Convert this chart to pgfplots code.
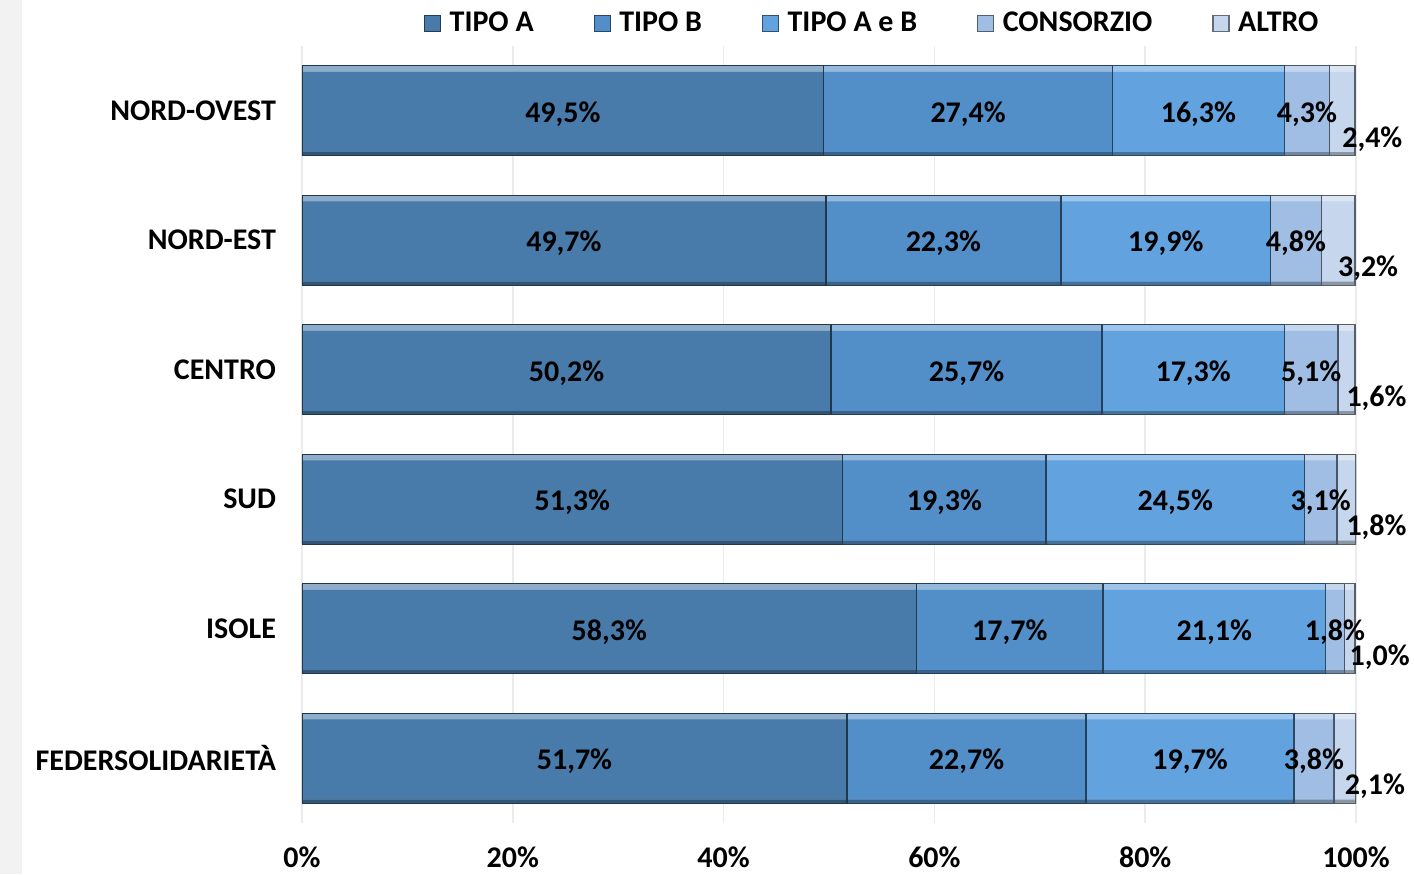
\documentclass[border=0pt]{standalone}
\usepackage{fontspec}
\setmainfont{Carlito}
\usepackage{pgfplots}
\usepackage{pgfplotstable}
\pgfplotsset{compat=1.18}
\definecolor{cA}{RGB}{72,122,170}
\definecolor{cB}{RGB}{82,142,200}
\definecolor{cC}{RGB}{98,162,222}
\definecolor{cD}{RGB}{160,190,228}
\definecolor{cE}{RGB}{198,214,236}
\pgfplotstableread{
y A B C D E
0 51.7 22.7 19.7 3.8 2.1
1 58.3 17.7 21.1 1.8 1.0
2 51.3 19.3 24.5 3.1 1.8
3 50.2 25.7 17.3 5.1 1.6
4 49.7 22.3 19.9 4.8 3.2
5 49.5 27.4 16.3 4.3 2.4
}\data
\pgfplotsset{
  myleg/.style={legend image code/.code={\draw[##1,draw=#1!50!black,line width=0.6pt] (0pt,-4pt) rectangle (8pt,4pt); \path (10.5pt,0pt);}},
  common/.style={at={(151pt,25.5pt)}, anchor=south west, scale only axis,
    width=527pt, height=388.5pt, xmin=0, xmax=100, ymin=-0.5, ymax=5.5},
  layer/.style 2 args={common, hide axis, xbar stacked, bar width=#1, bar shift=#2},
  Ldark/.style={fill=#1!70!black, draw=none},
  Llight/.style={fill=#1!62!white, draw=none},
  Lbase/.style={fill=#1, draw=none, myleg=#1},
  Lline/.style={fill=none, draw=#1!45!black, line width=0.7pt},
  lbl/.style={draw=none, mark=none, forget plot,
    nodes near coords={\pgfmathprintnumber[fixed,fixed zerofill,precision=1,use comma,assume math mode=true]{\pgfplotspointmeta}\%},
    every node near coord/.append style={anchor=center, yshift=-1.5pt, font=\fontsize{15}{18}\selectfont\bfseries, text=black}},
}
\begin{document}
\begin{tikzpicture}
\useasboundingbox (0,0) rectangle (707pt,437pt);
\fill[black!5] (0,0) rectangle (11pt,437pt);
% axis, grid, ticks and dark bottom bevel
\begin{axis}[common,
  xbar stacked, bar width=45pt, bar shift=0pt,
  ytick={0,...,5}, yticklabels={FEDERSOLIDARIETÀ,ISOLE,SUD,CENTRO,NORD-EST,NORD-OVEST},
  xtick={0,20,40,60,80,100}, xticklabels={0\%,20\%,40\%,60\%,80\%,100\%},
  axis line style={draw=none}, major tick style={draw=none},
  xmajorgrids, grid style={black!8, line width=0.8pt},
  tick label style={font=\fontsize{15}{18}\selectfont\bfseries},
  yticklabel style={xshift=-9.5pt},
  xticklabel style={yshift=-8.5pt},
]
\addplot[Ldark=cA] table[x=A,y=y]{\data};
\addplot[Ldark=cB] table[x=B,y=y]{\data};
\addplot[Ldark=cC] table[x=C,y=y]{\data};
\addplot[Ldark=cD] table[x=D,y=y]{\data};
\addplot[Ldark=cE] table[x=E,y=y]{\data};
\end{axis}
% light top bevel
\begin{axis}[layer={43pt}{1pt}]
\addplot[Llight=cA] table[x=A,y=y]{\data};
\addplot[Llight=cB] table[x=B,y=y]{\data};
\addplot[Llight=cC] table[x=C,y=y]{\data};
\addplot[Llight=cD] table[x=D,y=y]{\data};
\addplot[Llight=cE] table[x=E,y=y]{\data};
\end{axis}
% base colour and legend
\begin{axis}[layer={40pt}{-0.5pt},
  legend style={at={(0.542,1.029)}, anchor=center, draw=none, fill=none,
    legend columns=-1, font=\fontsize{15}{18}\selectfont\bfseries,
    /tikz/every even column/.append style={column sep=28pt}},
]
\addplot[Lbase=cA] table[x=A,y=y]{\data};
\addplot[Lbase=cB] table[x=B,y=y]{\data};
\addplot[Lbase=cC] table[x=C,y=y]{\data};
\addplot[Lbase=cD] table[x=D,y=y]{\data};
\addplot[Lbase=cE] table[x=E,y=y]{\data};
\legend{TIPO A, TIPO B, TIPO A e B, CONSORZIO, ALTRO}
\end{axis}
% outlines
\begin{axis}[layer={45pt}{0pt}]
\addplot[Lline=cA] table[x=A,y=y]{\data};
\addplot[Lline=cB] table[x=B,y=y]{\data};
\addplot[Lline=cC] table[x=C,y=y]{\data};
\addplot[Lline=cD] table[x=D,y=y]{\data};
\addplot[Lline=cE] table[x=E,y=y]{\data};
\end{axis}
% value labels
\begin{axis}[common, hide axis]
\addplot[lbl, point meta=\thisrow{A}] table[x expr=\thisrow{A}/2, y=y]{\data};
\addplot[lbl, point meta=\thisrow{B}] table[x expr=\thisrow{A}+\thisrow{B}/2, y=y]{\data};
\addplot[lbl, point meta=\thisrow{C}] table[x expr=\thisrow{A}+\thisrow{B}+\thisrow{C}/2, y=y]{\data};
\addplot[lbl, point meta=\thisrow{D}] table[x expr=\thisrow{A}+\thisrow{B}+\thisrow{C}+\thisrow{D}/2, y=y]{\data};
\addplot[lbl, point meta=\thisrow{E}, every node near coord/.append style={xshift=15pt, yshift=-12.5pt}] table[x expr=\thisrow{A}+\thisrow{B}+\thisrow{C}+\thisrow{D}+\thisrow{E}/2, y=y]{\data};
\end{axis}
\end{tikzpicture}
\end{document}
